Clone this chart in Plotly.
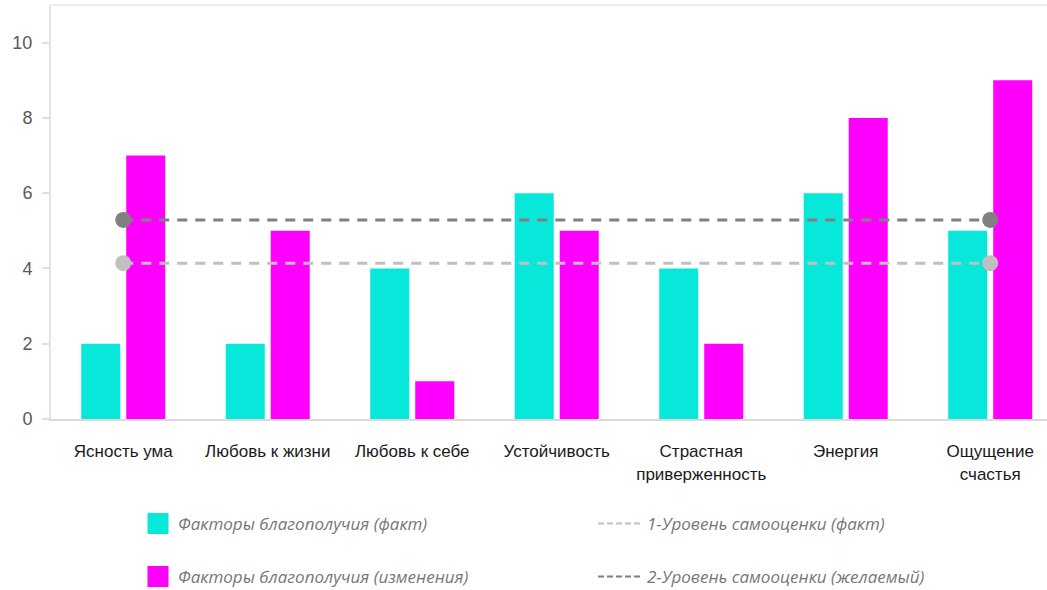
import plotly.graph_objects as go

# ---- data ----
categories = ["Ясность ума", "Любовь к жизни", "Любовь к себе", "Устойчивость",
              "Страстная<br>приверженность", "Энергия", "Ощущение<br>счастья"]
fact_values = [2, 2, 4, 6, 4, 6, 5]
change_values = [7, 5, 1, 5, 2, 8, 9]
level_fact = [4.14, 4.14]
level_desired = [5.29, 5.29]
level_x = [categories[0], categories[-1]]
y_ticks = [0, 2, 4, 6, 8, 10]

name_fact = "Факторы благополучия (факт)"
name_change = "Факторы благополучия (изменения)"
name_lvl1 = "1-Уровень самооценки (факт)"
name_lvl2 = "2-Уровень самооценки (желаемый)"

TEAL = "#07E8DB"
MAGENTA = "#FF00FF"
LIGHT = "#C0C0C0"
DARK = "#808080"

W, H = 1047, 590
L, T, B = 51, 5, 171


def cx(x):
    return x / W


def cy(y):
    return 1 - y / H


fig = go.Figure()
fig.add_trace(go.Bar(x=categories, y=fact_values, marker=dict(color=TEAL, line=dict(width=0)),
                     name=name_fact, showlegend=False))
fig.add_trace(go.Bar(x=categories, y=change_values, marker=dict(color=MAGENTA, line=dict(width=0)),
                     name=name_change, showlegend=False))

for vals, col in ((level_fact, LIGHT), (level_desired, DARK)):
    fig.add_trace(go.Scatter(x=level_x, y=vals, mode="lines",
                             line=dict(color=col, width=3, dash="10px,8px"),
                             showlegend=False, hoverinfo="skip"))
    fig.add_trace(go.Scatter(x=level_x, y=vals, mode="markers",
                             marker=dict(color=col, size=16), showlegend=False))

# legend entries
fig.add_trace(go.Scatter(x=[None], y=[None], mode="markers", name=name_fact, legend="legend",
                         marker=dict(symbol="square", size=16, color=TEAL, line=dict(color=TEAL, width=5))))
fig.add_trace(go.Scatter(x=[None], y=[None], mode="markers", name=name_change, legend="legend3",
                         marker=dict(symbol="square", size=16, color=MAGENTA, line=dict(color=MAGENTA, width=5))))
fig.add_trace(go.Scatter(x=[None], y=[None], mode="lines", name=name_lvl1, legend="legend2",
                         line=dict(color=LIGHT, width=2, dash="6px,3px")))
fig.add_trace(go.Scatter(x=[None], y=[None], mode="lines", name=name_lvl2, legend="legend4",
                         line=dict(color=DARK, width=2, dash="6px,3px")))

leg_font = dict(family="Open Sans", size=17, color="#777777", style="italic")


def leg(x, y, iw=30):
    return dict(x=cx(x), y=cy(y), xref="container", yref="container",
                xanchor="left", yanchor="middle", bgcolor="rgba(0,0,0,0)",
                borderwidth=0, font=leg_font, itemwidth=iw)


fig.update_layout(
    width=W, height=H,
    margin=dict(l=L, r=0, t=T, b=B, pad=0, autoexpand=False),
    paper_bgcolor="white", plot_bgcolor="white",
    barmode="group", bargap=0.377, bargroupgap=0.133,
    legend=leg(138, 524),
    legend2=leg(593, 524, 44),
    legend3=leg(138, 577),
    legend4=leg(593, 577, 44),
    xaxis=dict(type="category", range=[-0.5, 6.393], showline=True, linecolor="#D9D9D9",
               linewidth=2, ticks="", showgrid=False, zeroline=False,
               tickfont=dict(family="Liberation Sans", size=17, color="#1A1A1A"),
               ticklabelstandoff=16),
    yaxis=dict(range=[0, 11], tickvals=y_ticks, showline=True, linecolor="#E3E3E3", linewidth=2,
               ticks="outside", ticklen=7, tickcolor="#E0E0E0", tickwidth=2,
               showgrid=False, zeroline=False,
               tickfont=dict(family="Liberation Sans", size=18, color="#595959"),
               ticklabelstandoff=6),
    shapes=[dict(type="line", xref="paper", yref="paper", x0=0, x1=1, y0=1, y1=1,
                 line=dict(color="#EEEEEE", width=2))],
    font=dict(family="Liberation Sans"),
)

fig.write_html("out.html")
